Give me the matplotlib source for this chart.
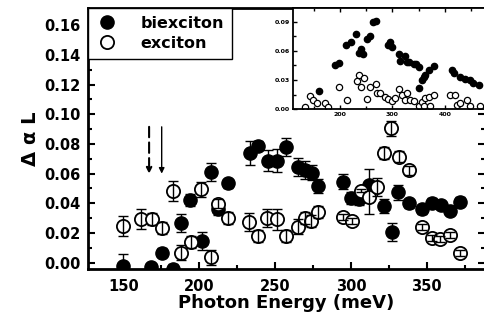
import matplotlib
matplotlib.use("Agg")
import matplotlib.pyplot as plt
from matplotlib.lines import Line2D
from matplotlib.ticker import MultipleLocator, FormatStrFormatter

# main panel: biexciton (filled)
bx = [150.0, 168.5, 175.8, 183.0, 188.2, 193.8, 201.8, 207.5, 212.2, 218.9,
      233.3, 238.9, 245.6, 251.1, 257.3, 264.9, 270.0, 274.5, 278.5, 294.5,
      300.0, 305.4, 312.0, 321.8, 326.8, 331.2, 338.2, 346.6, 353.2, 359.7,
      365.6, 372.2]
by = [-0.002, -0.003, 0.0067, -0.004, 0.0266, 0.0423, 0.0148, 0.0613, 0.036, 0.0535,
      0.0737, 0.0787, 0.0688, 0.0688, 0.0782, 0.0643, 0.0625, 0.0605, 0.0517, 0.0546,
      0.0434, 0.0427, 0.0524, 0.0382, 0.0205, 0.0475, 0.040, 0.036, 0.0404, 0.0389,
      0.035, 0.0411]
be = [0.008, 0.003, 0.003, 0.003, 0.006, 0.004, 0.006, 0.006, 0.004, 0.003,
      0.008, 0.003, 0.007, 0.008, 0.006, 0.006, 0.006, 0.005, 0.005, 0.005,
      0.004, 0.004, 0.011, 0.005, 0.006, 0.005, 0.003, 0.003, 0.003, 0.003,
      0.003, 0.003]

# main panel: exciton (open)
ex = [150.0, 161.8, 169.1, 175.8, 182.5, 188.0, 194.6, 200.9, 207.5, 212.2,
      218.9, 232.9, 238.9, 244.9, 251.6, 257.1, 264.9, 270.0, 273.5, 278.0,
      294.5, 300.6, 306.5, 312.0, 317.4, 321.8, 326.6, 331.8, 338.3, 347.0,
      353.2, 359.0, 365.6, 372.2]
ey = [0.0247, 0.0295, 0.0297, 0.0232, 0.0483, 0.0067, 0.0137, 0.0495, 0.0036, 0.0396,
      0.030, 0.0276, 0.018, 0.030, 0.0292, 0.018, 0.0243, 0.030, 0.028, 0.0344,
      0.0306, 0.0283, 0.0485, 0.044, 0.0508, 0.0737, 0.0906, 0.0715, 0.0624, 0.0239,
      0.0164, 0.0158, 0.0187, 0.0063]
ee = [0.007, 0.007, 0.004, 0.004, 0.007, 0.005, 0.004, 0.005, 0.005, 0.003,
      0.004, 0.006, 0.004, 0.006, 0.007, 0.004, 0.005, 0.004, 0.004, 0.004,
      0.002, 0.002, 0.001, 0.011, 0.006, 0.004, 0.005, 0.004, 0.003, 0.002,
      0.002, 0.002, 0.002, 0.002]

# inset data
ibx = [160, 191, 198, 212, 220, 230, 236, 240, 243, 251, 257, 262, 268, 292,
       296, 299, 312, 315, 323.5, 327, 332.6, 340.6, 345, 350.3, 351.5, 356.7,
       360, 363, 369.4, 379, 414, 417, 429.7, 438, 448.7, 455, 466]
iby = [0.019, 0.045, 0.048, 0.066, 0.069, 0.0774, 0.058, 0.062, 0.057, 0.072,
       0.075, 0.090, 0.091, 0.066, 0.0695, 0.064, 0.0568, 0.050, 0.0548, 0.049,
       0.049, 0.047, 0.046, 0.0432, 0.0216, 0.030, 0.033, 0.035, 0.040, 0.0445,
       0.040, 0.037, 0.0335, 0.0308, 0.030, 0.0267, 0.025]
iex = [133, 142.5, 149, 155.4, 171.3, 177.6, 198, 214, 232, 237, 246, 239.6,
       251, 257.5, 268.4, 270.3, 276.6, 286, 292.5, 299, 305.4, 311.7, 318,
       324.5, 327.8, 334, 341.8, 350, 356.5, 359.6, 362.8, 369.3, 372.4, 378.7,
       410.7, 420.3, 423.5, 430, 442.7, 449, 468]
iey = [0.0027, 0.0137, 0.0096, 0.0062, 0.0062, 0.0027, 0.0226, 0.0096, 0.029,
       0.0352, 0.0318, 0.0232, 0.0106, 0.0226, 0.026, 0.017, 0.0164, 0.013,
       0.0106, 0.0088, 0.0113, 0.0205, 0.0147, 0.0096, 0.0164, 0.0096, 0.0088,
       0.0034, 0.0078, 0.0034, 0.0113, 0.013, 0.0034, 0.0147, 0.0147, 0.0147,
       0.0044, 0.0062, 0.0096, 0.0034, 0.0034]

arrow_dash_x = 167
arrow_solid_x = 175.3

plt.rcParams['font.family'] = ['DejaVu Sans']
plt.rcParams['font.weight'] = 'bold'

fig = plt.figure(figsize=(4.84, 3.2), dpi=100)
W, H = 484.0, 320.0
ax = fig.add_axes([87.5 / W, (H - 269) / H, (485 - 87.5) / W, (269 - 8) / H])

ax.plot(bx, by, 'o', color='black', ms=9.5, zorder=2)
ax.errorbar(bx, by, yerr=be, fmt='none', ecolor='black', elinewidth=1, capsize=3.5, capthick=1, zorder=3)
ax.plot(ex, ey, 'o', mfc='white', mec='black', mew=1.3, ms=9.5, zorder=4)
ax.errorbar(ex, ey, yerr=ee, fmt='none', ecolor='black', elinewidth=1, capsize=3.5, capthick=1, zorder=5)

ax.annotate('', xy=(arrow_dash_x, 0.060), xytext=(arrow_dash_x, 0.0915),
            arrowprops=dict(arrowstyle='-|>', color='black', lw=1.5, ls=(0, (5, 2.5)),
                            mutation_scale=8, shrinkA=0, shrinkB=0))
ax.annotate('', xy=(arrow_solid_x, 0.060), xytext=(arrow_solid_x, 0.0915),
            arrowprops=dict(arrowstyle='-|>', color='black', lw=1.0,
                            mutation_scale=8, shrinkA=0, shrinkB=0))

ax.set_xlim(126.4, 388.4)
ax.set_ylim(-0.0042, 0.1715)
ax.xaxis.set_major_locator(MultipleLocator(50))
ax.xaxis.set_minor_locator(MultipleLocator(25))
ax.yaxis.set_major_locator(MultipleLocator(0.02))
ax.yaxis.set_minor_locator(MultipleLocator(0.01))
ax.yaxis.set_major_formatter(FormatStrFormatter('%.2f'))
ax.tick_params(which='both', direction='in', top=False, right=True, width=1.5)
ax.tick_params(which='major', length=5, labelsize=10.5)
ax.tick_params(axis='x', which='major', pad=7)
ax.tick_params(axis='y', which='major', pad=5)
ax.tick_params(which='minor', length=3)
for s in ax.spines.values():
    s.set_linewidth(2)
for lab in ax.get_xticklabels() + ax.get_yticklabels():
    lab.set_fontweight('bold')
ax.set_xlabel('Photon Energy (meV)', fontsize=13, fontweight='bold', labelpad=0)
ax.set_ylabel('Δ α L', fontsize=14, fontweight='bold', labelpad=3)

handles = [Line2D([], [], marker='o', ls='none', color='black', ms=9.5),
           Line2D([], [], marker='o', ls='none', mfc='white', mec='black', mew=1.3, ms=9.5)]
leg = ax.legend(handles, ['biexciton', 'exciton'], loc='upper left', borderaxespad=0,
                prop={'size': 11.5, 'weight': 'bold'}, fancybox=False, edgecolor='black',
                framealpha=1, handletextpad=1.3, borderpad=0.5, labelspacing=0.3,
                handlelength=1.5)
leg.get_frame().set_linewidth(1)
leg.set_zorder(10)

# inset
ins = fig.add_axes([292.5 / W, (H - 109.3) / H, (485 - 292.5) / W, (109.3 - 8) / H])
ins.plot(ibx, iby, 'o', color='black', ms=4.5)
ins.plot(iex, iey, 'o', mfc='white', mec='black', mew=0.9, ms=4.5)
ins.set_xlim(109, 477)
ins.set_ylim(0, 0.104)
ins.xaxis.set_major_locator(MultipleLocator(100))
ins.xaxis.set_minor_locator(MultipleLocator(50))
ins.yaxis.set_major_locator(MultipleLocator(0.03))
ins.yaxis.set_minor_locator(MultipleLocator(0.015))
ins.yaxis.set_major_formatter(FormatStrFormatter('%.2f'))
ins.tick_params(which='both', direction='in', top=True, right=False, width=1, labelsize=4.5, pad=2)
ins.tick_params(which='major', length=3)
ins.tick_params(which='minor', length=2)
for s in ins.spines.values():
    s.set_linewidth(1.3)
for lab in ins.get_xticklabels() + ins.get_yticklabels():
    lab.set_fontweight('bold')

fig.savefig('out.png', dpi=100)
